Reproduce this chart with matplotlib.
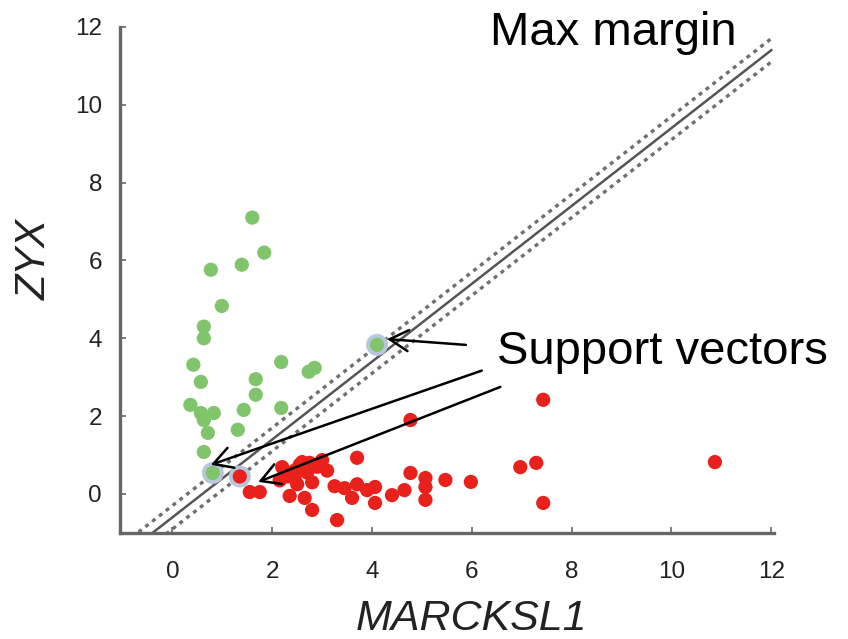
import matplotlib
matplotlib.use("Agg")
import matplotlib.pyplot as plt
import numpy as np

# expression values, class ZYX-high (green)
green_x = [1.60, 1.84, 1.39, 0.77, 0.99, 0.63, 0.63, 0.42, 0.57, 0.36, 0.57, 0.63,
           0.83, 0.71, 0.63, 1.43, 1.31, 1.67, 1.67, 2.18, 2.18, 2.73, 2.85]
green_y = [7.10, 6.20, 5.89, 5.76, 4.83, 4.30, 4.00, 3.32, 2.88, 2.29, 2.08, 1.90,
           2.08, 1.57, 1.08, 2.16, 1.65, 2.95, 2.55, 3.39, 2.21, 3.14, 3.24]

# class MARCKSL1-high (red)
red_x = [1.55, 1.75, 2.20, 2.30, 2.45, 2.60, 2.70, 2.90, 3.00, 2.50, 2.80, 2.35,
         2.65, 2.80, 3.30, 3.70, 3.25, 3.45, 3.70, 3.90, 3.60, 4.06, 4.06, 4.40,
         4.65, 4.77, 5.07, 5.07, 5.07, 4.77, 5.47, 5.98, 6.97, 7.29, 7.43, 7.43, 10.87,
         2.45, 2.75, 2.15, 3.10, 2.55]
red_y = [0.05, 0.05, 0.69, 0.45, 0.60, 0.82, 0.55, 0.70, 0.87, 0.25, 0.30, -0.05,
         -0.10, -0.41, -0.67, 0.93, 0.20, 0.15, 0.25, 0.10, -0.10, 0.18, -0.23, -0.03,
         0.10, 0.54, 0.41, 0.18, -0.15, 1.90, 0.36, 0.31, 0.69, 0.80, 2.42, -0.23, 0.82,
         0.40, 0.80, 0.35, 0.60, 0.75]

# support vectors
sv_x = [4.10, 0.81, 1.35]
sv_y = [3.83, 0.54, 0.45]
sv_col = ["#80c46c", "#80c46c", "#e8211c"]

# separating hyperplane y = x + b, margins on each side
slope = 1.0
b_mid = -0.60
b_up = -0.30
b_low = -0.90

fig = plt.figure(figsize=(8.48, 6.39), dpi=100)
ax = fig.add_axes([0.1415, 0.166, 0.771, 0.792])

xs = np.array([-1.5, 12.0])
ax.plot(xs, slope * xs + b_mid, color="#555555", lw=1.8, zorder=1)
for b in (b_up, b_low):
    ax.plot(xs, slope * xs + b, color="#6f6f6f", lw=2.4, ls=(0, (1.2, 1.4)), zorder=1)

ax.scatter(green_x, green_y, s=105, color="#80c46c", edgecolors="none", zorder=3)
ax.scatter(red_x, red_y, s=105, color="#e8211c", edgecolors="none", zorder=3)
ax.scatter(sv_x, sv_y, s=250, color="#b8c6dc", edgecolors="none", zorder=2)
ax.scatter(sv_x, sv_y, s=105, color=sv_col, edgecolors="none", zorder=3)

# arrows pointing at the support vectors
arrows = [((5.88, 3.83), (4.30, 3.98)),
          ((6.20, 3.17), (0.77, 0.75)),
          ((6.57, 2.75), (1.72, 0.31))]
for tail, head in arrows:
    ax.annotate("", xy=head, xytext=tail,
                arrowprops=dict(arrowstyle="->,head_length=0.5,head_width=0.28",
                                color="black", lw=1.8,
                                mutation_scale=27, shrinkA=0, shrinkB=0),
                zorder=4)

ax.set_xlim(-1.05, 12.05)
ax.set_ylim(-1.0, 12.0)
ax.set_xticks([0, 2, 4, 6, 8, 10, 12])
ax.set_yticks([0, 2, 4, 6, 8, 10, 12])

for side in ("top", "right"):
    ax.spines[side].set_visible(False)
for side in ("left", "bottom"):
    ax.spines[side].set_color("#666666")
    ax.spines[side].set_linewidth(2.4)

sans = ["Liberation Sans", "DejaVu Sans"]
ax.tick_params(axis="both", direction="in", length=4, width=1.2, color="#666666",
               labelsize=17.5, labelcolor="#222222")
ax.tick_params(axis="x", pad=20)
ax.tick_params(axis="y", pad=13)
for lab in ax.get_xticklabels() + ax.get_yticklabels():
    lab.set_family(sans)

fig.text(0.556, 0.014, "MARCKSL1", family=sans, style="italic", fontsize=31,
         ha="center", va="baseline", color="#222222")
fig.text(0.041, 0.594, "ZYX", family=sans, style="italic", fontsize=30,
         ha="center", va="center", rotation=90, color="#222222")

fig.text(0.578, 0.930, "Max margin", family=sans, fontsize=34, va="baseline")
fig.text(0.586, 0.430, "Support vectors", family=sans, fontsize=34, va="baseline")

fig.savefig("out.png", dpi=100)
